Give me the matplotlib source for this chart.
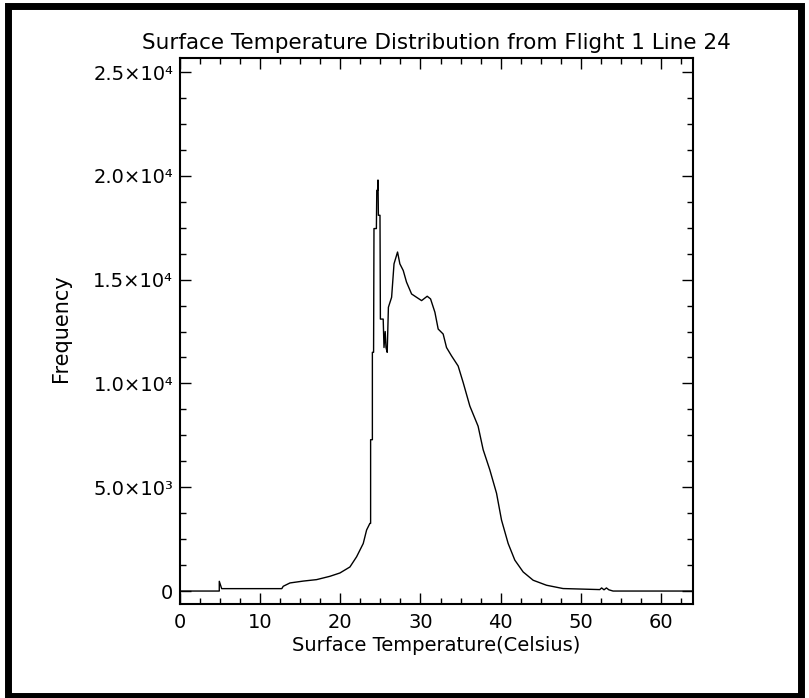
import matplotlib
matplotlib.use("Agg")
import matplotlib.pyplot as plt
from matplotlib.patches import Rectangle
from matplotlib.ticker import MultipleLocator

plt.rcParams['font.family'] = ['DejaVu Sans']

# temperature (Celsius) and pixel counts
temperature = [0.0, 4.9, 4.9, 5.2, 12.7, 12.88, 13.72, 15.38, 17.04, 18.70, 19.95,
               21.20, 22.03, 22.86, 23.28, 23.69, 23.78, 23.78, 24.0, 24.0, 24.15,
               24.2, 24.5, 24.55, 24.65, 24.7, 24.75, 24.95, 25.0, 25.35, 25.45,
               25.6, 25.7, 25.85, 26.0, 26.4, 26.7, 27.14, 27.43, 27.85, 28.26,
               28.89, 29.51, 30.14, 30.84, 31.26, 31.80, 32.21, 32.83, 33.25,
               33.87, 34.70, 35.33, 36.16, 37.19, 37.82, 38.65, 39.49, 40.11,
               40.94, 41.77, 42.81, 44.06, 45.72, 47.79, 52.37, 52.6, 52.9, 53.2,
               53.5, 54.03, 64.0]
frequency = [0, 0, 470, 116, 116, 230, 390, 480, 550, 710, 870,
             1160, 1650, 2290, 2940, 3260, 3260, 7290, 7290, 11500, 11500,
             17460, 17460, 19300, 19300, 19800, 18100, 18100, 13100, 13100, 11730,
             12500, 11730, 11500, 13670, 14150, 15760, 16330, 15760, 15440, 14880,
             14310, 14150, 13990, 14200, 14070, 13430, 12620, 12380, 11730,
             11330, 10840, 10040, 8910, 7940, 6810, 5840, 4710, 3420,
             2290, 1490, 920, 520, 280, 120, 70, 150, 60, 150,
             60, 0, 0]

ytick_values = [0, 5000, 10000, 15000, 20000, 25000]
ytick_labels = ["0", "5.0×10³", "1.0×10⁴", "1.5×10⁴", "2.0×10⁴", "2.5×10⁴"]
xtick_values = [0, 10, 20, 30, 40, 50, 60]

W, H = 809, 698
fig = plt.figure(figsize=(W / 100, H / 100), dpi=100)
ax = fig.add_axes([180 / W, (H - 603.5) / H, 513 / W, 546 / H])

ax.plot(temperature, frequency, color="black", linewidth=1.0)

ax.set_xlim(0, 64)
ax.set_ylim(-600, 25700)
ax.set_xticks(xtick_values)
ax.xaxis.set_minor_locator(MultipleLocator(2.5))
ax.set_yticks(ytick_values)
ax.set_yticklabels(ytick_labels)
ax.yaxis.set_minor_locator(MultipleLocator(1250))

ax.tick_params(which="both", direction="in", top=True, right=True, width=1, colors="black")
ax.tick_params(which="major", length=8, labelsize=14)
ax.tick_params(axis="x", which="major", pad=7)
ax.tick_params(axis="y", which="major", pad=5)
ax.tick_params(which="minor", length=4)
for s in ax.spines.values():
    s.set_linewidth(1.5)

ax.set_title("Surface Temperature Distribution from Flight 1 Line 24", fontsize=15.5, pad=6)
ax.set_xlabel("Surface Temperature(Celsius)", fontsize=14, labelpad=3)
ax.set_ylabel("Frequency", fontsize=15)
ax.yaxis.set_label_coords(-0.212, 0.505)

# heavy black frame around the whole picture
fig.patches.append(Rectangle((8 / W, 2.5 / H), 793 / W, 690 / H, transform=fig.transFigure,
                             fill=False, edgecolor="black", linewidth=5))

fig.savefig("out.png", dpi=100)
